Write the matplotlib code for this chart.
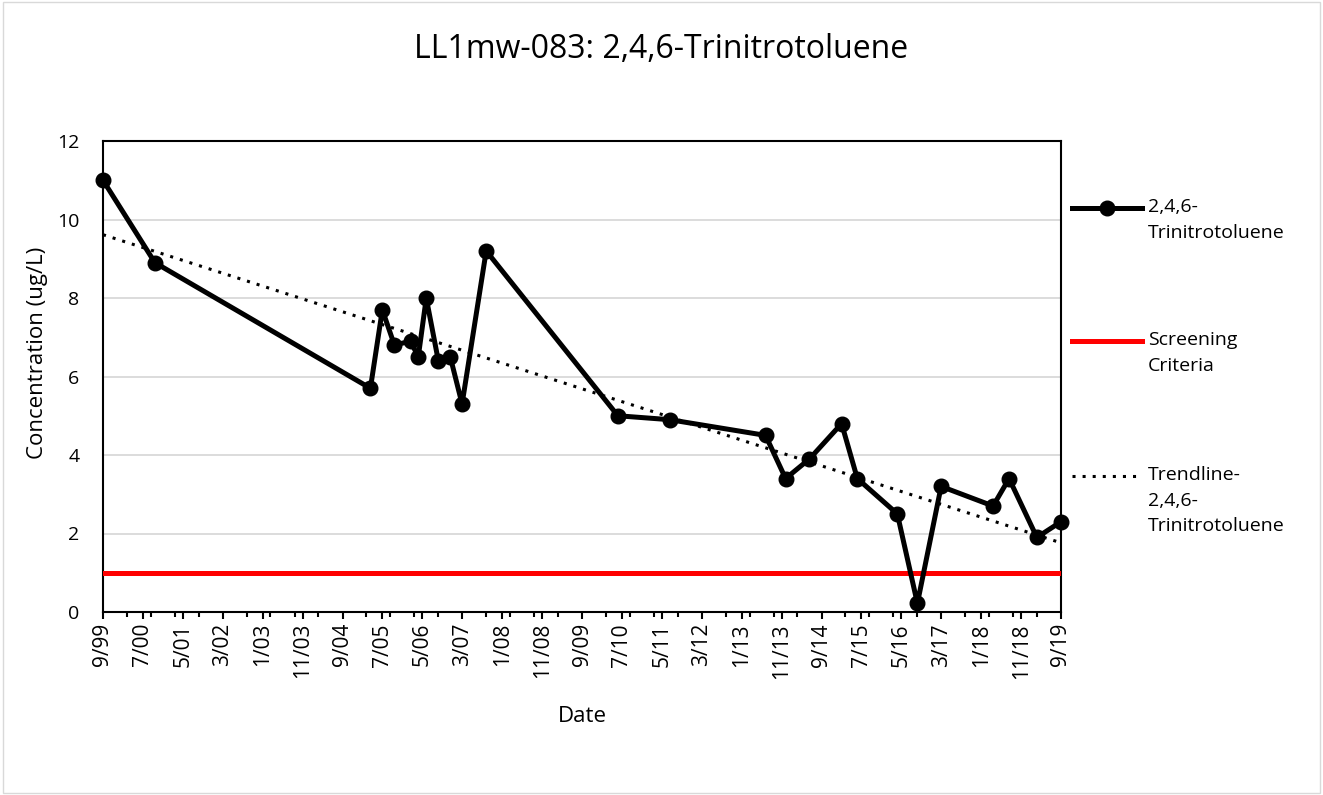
import datetime as dt
import numpy as np
import matplotlib
matplotlib.use("Agg")
import matplotlib.pyplot as plt
import matplotlib.dates as mdates
from matplotlib.lines import Line2D

# sample dates (year, month) and TNT concentrations (ug/L)
sample_dates = [(1999, 9), (2000, 10), (2005, 4), (2005, 7), (2005, 10), (2006, 2),
                (2006, 4), (2006, 6), (2006, 9), (2006, 12), (2007, 3), (2007, 9),
                (2010, 6), (2011, 7), (2013, 7), (2013, 12), (2014, 6), (2015, 2),
                (2015, 6), (2016, 4), (2016, 9), (2017, 3), (2018, 4), (2018, 8),
                (2019, 3), (2019, 9)]
tnt = [11.0, 8.9, 5.7, 7.7, 6.8, 6.9, 6.5, 8.0, 6.4, 6.5, 5.3, 9.2,
       5.0, 4.9, 4.5, 3.4, 3.9, 4.8, 3.4, 2.5, 0.22, 3.2, 2.7, 3.4, 1.9, 2.3]
screening = 1.0
legend_labels = ['2,4,6-\nTrinitrotoluene', 'Screening\nCriteria',
                 'Trendline-\n2,4,6-\nTrinitrotoluene']

tick_dates = []
y, m = 1999, 9
for i in range(25):
    tick_dates.append(dt.datetime(y, m, 1))
    m += 10
    while m > 12:
        m -= 12
        y += 1
tick_labels = [f"{d.month}/{d.year % 100:02d}" for d in tick_dates]

dates = [dt.datetime(yy, mm, 1) for yy, mm in sample_dates]
xnum = mdates.date2num(dates)

plt.rcParams['font.family'] = ['Open Sans', 'DejaVu Sans']

W, H = 1323, 795
fig = plt.figure(figsize=(W / 100, H / 100), dpi=100)
ax = fig.add_axes([103 / W, 1 - 612 / H, 958 / W, 471 / H])

x0, x1 = mdates.date2num(tick_dates[0]), mdates.date2num(tick_dates[-1])
ax.set_xlim(x0, x1)
ax.set_ylim(0, 12)

red_style = dict(color='#ff0000', lw=3.6)
data_style = dict(color='black', lw=3.6, marker='o', ms=10.5)
trend_style = dict(color='black', lw=2.2, ls=(0, (1, 2.3)))

ax.axhline(screening, zorder=3, **red_style)
ax.plot(xnum, tnt, zorder=4, clip_on=False, **data_style)

coef = np.polyfit(xnum, tnt, 1)
xt = np.array([x0, x1])
ax.plot(xt, np.polyval(coef, xt), zorder=5, **trend_style)

ax.set_yticks(range(0, 13, 2))
ax.grid(axis='y', color='#d9d9d9', lw=1.3)
ax.set_axisbelow(True)
ax.tick_params(axis='y', length=0, labelsize=14, pad=17)

ax.set_xticks(mdates.date2num(tick_dates))
ax.set_xticklabels(tick_labels, rotation=90, fontsize=15)
minor = []
y, m = 2000, 3
while dt.datetime(y, m, 1) < tick_dates[-1]:
    minor.append(mdates.date2num(dt.datetime(y, m, 1)))
    m += 6
    if m > 12:
        m -= 12
        y += 1
ax.set_xticks(minor, minor=True)
ax.tick_params(axis='x', which='major', length=5, width=1.5, direction='out', pad=3)
ax.tick_params(axis='x', which='minor', length=3.5, width=1.5, direction='out')

for s in ax.spines.values():
    s.set_linewidth(1.5)

ax.set_ylabel('Concentration (ug/L)', fontsize=16)
ax.yaxis.set_label_coords(-0.057, 0.55)
ax.set_xlabel('Date', fontsize=16, labelpad=20)
fig.suptitle('LL1mw-083: 2,4,6-Trinitrotoluene', fontsize=23, y=1 - 50 / H, va='center')

# legend drawn by hand: Excel aligns each key with the first line of its label
styles = [data_style, red_style, trend_style]
rows_y = [208, 341, 476]
for lab, st, ry in zip(legend_labels, styles, rows_y):
    yf = 1 - ry / H
    kw = dict(st)
    if 'marker' in kw:
        kw['markevery'] = [1]
    fig.add_artist(Line2D([1072 / W, 1107 / W, 1142 / W], [yf, yf, yf],
                          transform=fig.transFigure, **kw))
    fig.text(1148 / W, yf + 10 / H, lab, fontsize=14, va='top', ha='left',
             linespacing=1.55)

fig.patches.append(plt.Rectangle((0.002, 0.002), 0.996, 0.996, transform=fig.transFigure,
                                 fill=False, edgecolor='#d9d9d9', lw=1))
fig.savefig('out.png', dpi=100)
